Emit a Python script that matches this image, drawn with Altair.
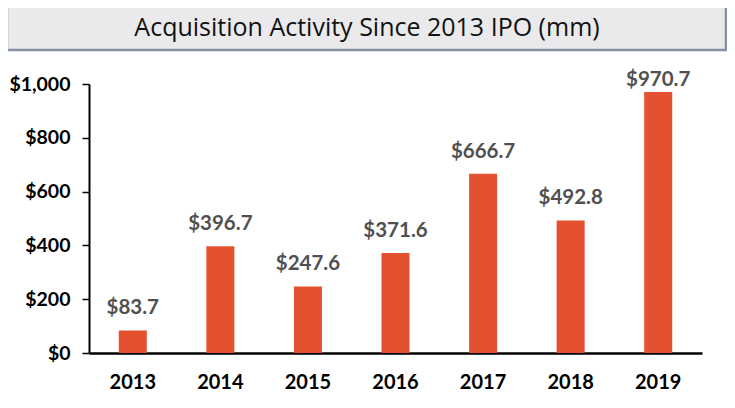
import altair as alt
import pandas as pd

years = ["2013", "2014", "2015", "2016", "2017", "2018", "2019"]
values = [83.7, 396.7, 247.6, 371.6, 666.7, 492.8, 970.7]
y_ticks = [0, 200, 400, 600, 800, 1000]
title_text = "Acquisition Activity Since 2013 IPO (mm)"

df = pd.DataFrame({"year": years, "value": values})
title_df = pd.DataFrame({"title": [title_text]})

W, H = 613, 269

x_enc = alt.X(
    "year:N",
    sort=years,
    scale=alt.Scale(paddingInner=0.68, paddingOuter=0.34),
    axis=alt.Axis(
        title=None, labelAngle=0, ticks=False, labelPadding=19,
        labelFont="Lato", labelFontWeight="bold", labelFontSize=20,
        labelColor="#000000", domainColor="#000000", domainWidth=2.5,
    ),
)
y_enc = alt.Y(
    "value:Q",
    scale=alt.Scale(domain=[0, 1000], nice=False),
    axis=alt.Axis(
        title=None, values=y_ticks, format="$,.0f", grid=False,
        tickSize=7, tickColor="#000000", tickWidth=1.5, labelPadding=12,
        labelFont="Lato", labelFontWeight="bold", labelFontSize=19.5,
        labelColor="#000000", domainColor="#000000", domainWidth=2,
    ),
)

bars = alt.Chart(df).mark_bar(color="#E4512F").encode(x=x_enc, y=y_enc)

labels = (
    alt.Chart(df)
    .transform_calculate(ly="min(datum.value + 59.5, 992.6)")
    .mark_text(font="Lato", fontWeight="bold", fontSize=20.5, color="#505050",
               baseline="alphabetic", align="center")
    .encode(
        x=alt.X("year:N", sort=years),
        y=alt.Y("ly:Q"),
        text=alt.Text("value:Q", format="$,.1f"),
    )
)

title_box = alt.Chart(title_df).mark_rect(
    fill="#EAEAEC", stroke="#8490A0", strokeWidth=2.5
).encode(
    x=alt.value(-82), x2=alt.value(637), y=alt.value(-79), y2=alt.value(-34)
)

title_label = alt.Chart(title_df).mark_text(
    font="Open Sans", fontSize=25, color="#111111", align="center", baseline="middle"
).encode(
    x=alt.value(278), y=alt.value(-56), text="title:N"
)

chart = (
    alt.layer(title_box, title_label, bars, labels)
    .properties(
        width=W, height=H,
        autosize=alt.AutoSizeParams(type="none"),
        padding={"left": 81, "top": 76, "right": 25, "bottom": 40},
    )
    .configure_view(stroke=None)
)

chart.save("out.html", embed_options={"renderer": "svg", "actions": False})
